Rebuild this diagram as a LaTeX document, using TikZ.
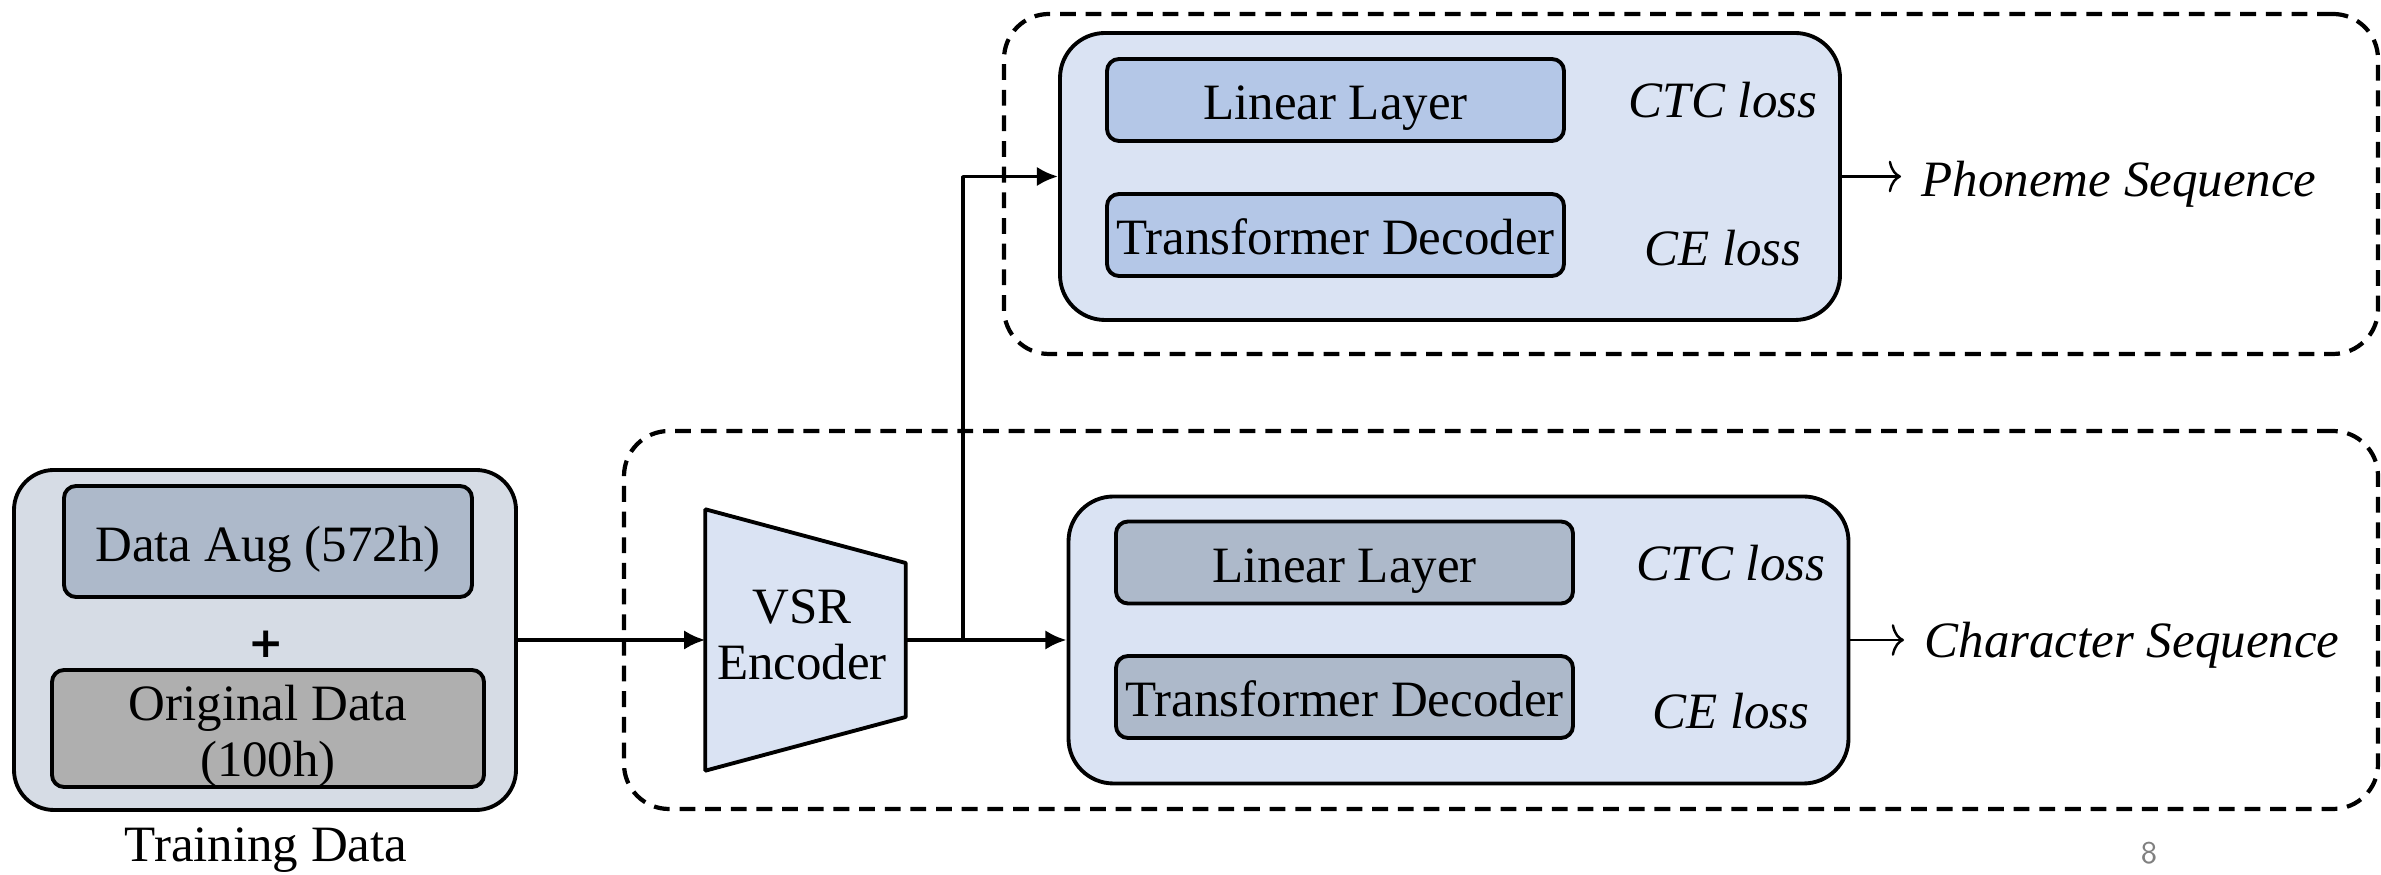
\documentclass[tikz,border=0pt]{standalone}
\usepackage{fontspec}
\setmainfont{Liberation Serif}
\newfontfamily\plusfont{DejaVu Sans}
\usepackage{tikz}
\usetikzlibrary{arrows.meta}

\definecolor{trainbg}{HTML}{D6DCE5}
\definecolor{augbg}{HTML}{ADB9CA}
\definecolor{origbg}{HTML}{AFAFAF}
\definecolor{headbg}{HTML}{DAE3F3}
\definecolor{phlayer}{HTML}{B4C7E7}
\definecolor{chlayer}{HTML}{ADB9CA}

\begin{document}
\begin{tikzpicture}[>=latex,line join=bevel,
  every node/.style={font=\fontsize{14.5}{16}\selectfont},
  blockbox/.style={draw,line width=1.1pt,rounded corners=0.12cm,minimum width=4.57cm,minimum height=0.82cm,inner sep=0pt,text height=0.44cm,text depth=0.04cm},
  headbox/.style={draw,line width=1.1pt,rounded corners=0.45cm,fill=headbg,minimum width=7.8cm,minimum height=2.87cm},
  dashgroup/.style={draw,line width=1.2pt,dash pattern=on 4.5pt off 2.8pt,rounded corners=0.45cm,inner sep=0pt},
  loss/.style={font=\fontsize{14.5}{16}\selectfont\itshape},
  flowarrow/.style={line width=1.1pt,-{Latex[length=6pt,width=5.5pt]}},
  outarrow/.style={line width=0.7pt,-{To[length=3.5pt,width=9pt]}},
]
  \useasboundingbox (0,0) rectangle (23.81,8.75);

  % dashed groups
  \node (ch_group) at (15.01,2.55) [dashgroup,minimum width=17.54cm,minimum height=3.78cm] {};
  \node (ph_group) at (16.91,6.91) [dashgroup,minimum width=13.74cm,minimum height=3.40cm] {};

  % training data
  \node (train_box) at (2.65,2.35) [draw,line width=1.1pt,rounded corners=0.4cm,fill=trainbg,minimum width=5.02cm,minimum height=3.40cm] {};
  \node (data_aug) at (2.68,3.335) [blockbox,fill=augbg,minimum width=4.08cm,minimum height=1.11cm] {Data Aug (572h)};
  \node (plus) at (2.66,2.31) [font=\plusfont\bfseries\fontsize{12}{14}\selectfont] {+};
  \node (orig_data) at (2.68,1.465) [draw,line width=1.1pt,rounded corners=0.12cm,fill=origbg,minimum width=4.32cm,minimum height=1.17cm,inner sep=0pt,align=center,text height=1.0cm,text depth=0.04cm] {Original Data\\(100h)};
  \node (train_label) at (2.66,0.25) {Training Data};

  % encoder
  \node (enc) at (8.055,2.35) [minimum width=1.99cm,minimum height=2.60cm,inner sep=0pt] {};
  \draw [line width=1.1pt,fill=headbg] (enc.north west) -- ([yshift=0.77cm]enc.east) -- ([yshift=-0.77cm]enc.east) -- (enc.south west) -- cycle;
  \node (enc_label) at (8.02,2.40) [align=center] {VSR\\Encoder};
  \coordinate (split) at (9.63,2.35);

  % phoneme head
  \node (ph_head) at (14.50,6.985) [headbox] {};
  \node (ph_linear) at (13.355,7.75) [blockbox,fill=phlayer] {Linear Layer};
  \node (ph_decoder) at (13.355,6.40) [blockbox,fill=phlayer] {Transformer Decoder};
  \node (ph_ctc) at (17.23,7.75) [loss] {CTC loss};
  \node (ph_ce) at (17.23,6.27) [loss] {CE loss};
  \node (ph_seq) at (19.21,6.91) [anchor=west,inner sep=0pt,loss] {Phoneme Sequence};

  % character head
  \node (ch_head) at (14.585,2.35) [headbox] {};
  \node (ch_linear) at (13.445,3.125) [blockbox,fill=chlayer] {Linear Layer};
  \node (ch_decoder) at (13.445,1.78) [blockbox,fill=chlayer] {Transformer Decoder};
  \node (ch_ctc) at (17.31,3.12) [loss] {CTC loss};
  \node (ch_ce) at (17.31,1.64) [loss] {CE loss};
  \node (ch_seq) at (19.24,2.30) [anchor=west,inner sep=0pt,loss] {Character Sequence};

  \node (page_no) at (21.49,0.22) [font=\sffamily\fontsize{9}{10}\selectfont,text=gray] {8};

  \draw [flowarrow] (train_box.east) -- (enc.west);
  \draw [line width=1.1pt] (enc.east) -- (split);
  \draw [flowarrow] (split) -- (ch_head.west);
  \draw [flowarrow] (split) |- (ph_head.west);
  \draw [outarrow,shorten >=0.2cm] (ph_head.east) -- (ph_head.east -| ph_seq.west);
  \draw [outarrow,shorten >=0.2cm] (ch_head.east) -- (ch_head.east -| ch_seq.west);
%
\end{tikzpicture}
\end{document}
